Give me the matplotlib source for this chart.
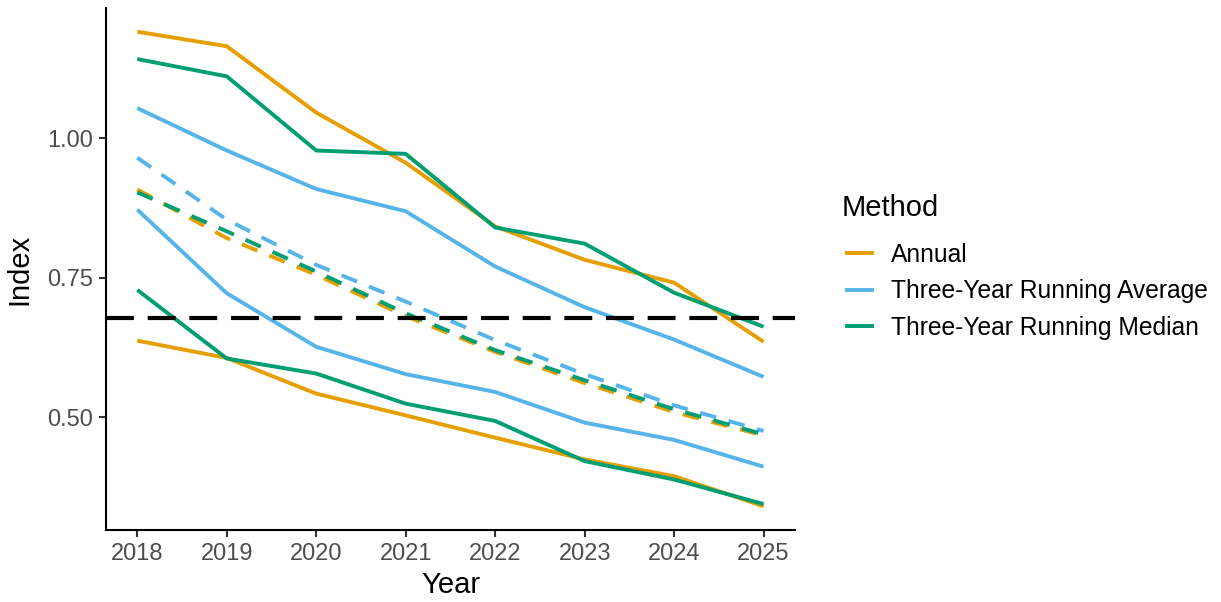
import numpy as np
import matplotlib.pyplot as plt
from matplotlib.lines import Line2D

plt.rcParams['font.family'] = ['Liberation Sans', 'DejaVu Sans']

years = [2018, 2019, 2020, 2021, 2022, 2023, 2024, 2025]

# annual index: upper bound, central estimate, lower bound
annual_upper = [1.191, 1.165, 1.046, 0.956, 0.842, 0.782, 0.741, 0.635]
annual_mid = [0.908, 0.821, 0.755, 0.681, 0.617, 0.561, 0.509, 0.467]
annual_lower = [0.637, 0.606, 0.542, 0.503, 0.463, 0.424, 0.394, 0.340]

# three-year running average
avg_upper = [1.054, 0.978, 0.909, 0.869, 0.770, 0.697, 0.639, 0.572]
avg_mid = [0.965, 0.854, 0.773, 0.707, 0.638, 0.577, 0.521, 0.475]
avg_lower = [0.872, 0.722, 0.626, 0.577, 0.545, 0.490, 0.459, 0.411]

# three-year running median
med_upper = [1.142, 1.111, 0.978, 0.972, 0.840, 0.811, 0.723, 0.662]
med_mid = [0.903, 0.833, 0.761, 0.686, 0.620, 0.566, 0.514, 0.469]
med_lower = [0.728, 0.605, 0.578, 0.524, 0.493, 0.421, 0.388, 0.344]

threshold = 0.677

methods = ["Annual", "Three-Year Running Average", "Three-Year Running Median"]
colors = ["#E69F00", "#56B4E9", "#009E73"]
series = [(annual_upper, annual_mid, annual_lower),
          (avg_upper, avg_mid, avg_lower),
          (med_upper, med_mid, med_lower)]

fig = plt.figure(figsize=(12.21, 6.02), dpi=100)
ax = fig.add_axes([0.0868, 0.1196, 0.651 - 0.0868, 0.9867 - 0.1196])

lw = 2.8
for (up, mid, lo), c in zip(series, colors):
    ax.plot(years, up, color=c, lw=lw, solid_capstyle='butt')
    ax.plot(years, lo, color=c, lw=lw, solid_capstyle='butt')
    ax.plot(years, mid, color=c, lw=lw, linestyle=(0, (4.3, 3.3)))

ax.axhline(threshold, color='black', lw=3.0, linestyle=(0, (6.7, 3.3)))

# ggplot-like 5% expansion
allv = np.concatenate([np.array(s) for grp in series for s in grp])
lo_v, hi_v = allv.min(), allv.max()
pad = 0.05 * (hi_v - lo_v)
ax.set_ylim(lo_v - pad, hi_v + pad)
xpad = 0.05 * (years[-1] - years[0])
ax.set_xlim(years[0] - xpad, years[-1] + xpad)

ax.set_xticks(years)
ax.set_xticklabels([str(y) for y in years])
ax.set_yticks([0.50, 0.75, 1.00])
ax.set_yticklabels(["0.50", "0.75", "1.00"])

for s in ['top', 'right']:
    ax.spines[s].set_visible(False)
for s in ['left', 'bottom']:
    ax.spines[s].set_linewidth(1.5)
    ax.spines[s].set_color('black')
ax.tick_params(axis='both', length=5, width=1.5, color='#333333',
               labelcolor='#4D4D4D', labelsize=17, pad=4)

ax.set_xlabel("Year", fontsize=21, labelpad=5)
ax.set_ylabel("Index", fontsize=21, labelpad=10)

fig.text(842 / 1221, 1 - 208 / 602, "Method", fontsize=21,
         ha='left', va='center')
handles = [Line2D([0], [0], color=c, lw=lw) for c in colors]
leg = fig.legend(handles, methods, loc='upper left',
                 bbox_to_anchor=(847 / 1221, 1 - 243 / 602), frameon=False,
                 fontsize=17.7, handlelength=1.0, handletextpad=0.8,
                 labelspacing=0.5, borderaxespad=0, borderpad=0)

fig.savefig("out.png", dpi=100)
